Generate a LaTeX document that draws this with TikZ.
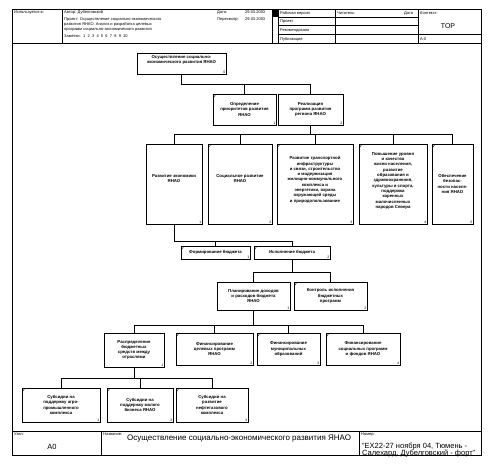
\documentclass[tikz,border=0pt]{standalone}
\usepackage{fontspec}
\setmainfont{Liberation Sans}
\newcommand\tb[8]{%
  \node[box, minimum width={(#4-#2)*1pt}, minimum height={(#5-#3)*1pt}] (#1) at ({(#2+#4)/2},{(#3+#5)/2}) {#6};
  \node[num, anchor=south east] (#1n) at (#1.south east) {#7};
  \ifnum#8=1 \draw[mark line] ([xshift=1pt,yshift=-4pt]#1.north west) -- ++(2,-3);\fi
}
\begin{document}
\begin{tikzpicture}[x=1pt,y=-1pt,
  box/.style={draw, line width=0.8pt, inner sep=0pt, align=center, font=\fontsize{4.3}{5.3}\selectfont\bfseries},
  num/.style={inner sep=0.8pt, font=\fontsize{3.5}{4}\selectfont},
  hdr/.style={inner sep=0pt, anchor=base west, font=\fontsize{4}{5}\selectfont},
  frame/.style={line width=0.8pt},
  link/.style={line width=0.8pt},
  mark line/.style={line width=0.4pt}]
\useasboundingbox (0,0) rectangle (495,467);
% frame
\draw[frame] (12,9) rectangle (481,455);
\draw[frame] (12,43) -- (481,43);
\draw[frame] (12,431) -- (481,431);
\foreach \xx in {62,272,278,335,418} \draw[frame] (\xx,9) -- (\xx,43);
\fill (272,9) rectangle (278,17);
\foreach \yy in {17,25.5,34} \draw[frame] (278,\yy) -- (418,\yy);
\draw[frame] (418,34) -- (481,34);
\draw[frame] (101,431) -- (101,455);
\draw[frame] (359,431) -- (359,455);
% header text
\node[hdr] (h1) at (14,13) {Используется в:};
\node[hdr] (h2) at (64,13) {Автор: Дубелговский};
\node[hdr] (h3) at (64,20) {Проект: Осуществление социально-экономического};
\node[hdr] (h4) at (64,25) {развития ЯНАО. Анализ и разработка целевых};
\node[hdr] (h5) at (64,30) {программ социально-экономического развития};
\node[hdr] (h6) at (64,37) {Заметки: \ 1 \ 2 \ 3 \ 4 \ 5 \ 6 \ 7 \ 8 \ 9 \ 10};
\node[hdr] (h7) at (217,13) {Дата:};
\node[hdr] (h8) at (245,13) {29.03.2003};
\node[hdr] (h9) at (217,20) {Пересмотр:};
\node[hdr] (h10) at (245,20) {29.03.2003};
\node[hdr] (h11) at (280,14) {Рабочая версия};
\node[hdr] (h12) at (280,22.5) {Проект};
\node[hdr] (h13) at (280,31) {Рекомендовано};
\node[hdr] (h14) at (280,40) {Публикация};
\node[hdr] (h15) at (337,14) {Читатель:};
\node[hdr] (h16) at (404,14) {Дата};
\node[hdr] (h17) at (420,14) {Контекст:};
\node[inner sep=0pt, font=\fontsize{7}{8}\selectfont] (h18) at (448,26) {TOP};
\node[hdr] (h19) at (420,40) {А-0};
% footer
\node[hdr] (f1) at (14,435) {Узел:};
\node[inner sep=0pt, font=\fontsize{7.5}{8}\selectfont] (f2) at (52,447) {А0};
\node[hdr] (f3) at (103,435) {Название:};
\node[inner sep=0pt, anchor=base west, font=\fontsize{8}{9}\selectfont] (f4) at (127,440) {Осуществление социально-экономического развития ЯНАО};
\node[hdr] (f5) at (361,435) {Номер:};
\node[inner sep=0pt, anchor=base west, font=\fontsize{7.5}{9}\selectfont] (f6) at (362,448) {"EX22-27 ноября 04, Тюмень -};
\node[inner sep=0pt, anchor=base west, font=\fontsize{7.5}{9}\selectfont] (f7) at (362,455) {Салехард, Дубелговский - форт"};
% boxes
\tb{b0}{137}{53}{226}{74}{Осуществление социально-\\экономического развития ЯНАО\\[3pt]}{0}{0}
\tb{b1}{213}{94}{276}{125}{Определение\\приоритетов развития\\ЯНАО}{1}{1}
\tb{b2}{278}{94}{343}{125}{Реализация\\программ развития\\региона ЯНАО}{2}{0}
\tb{b3}{146}{144}{202}{224}{Развитие экономики\\ЯНАО\\[6pt]}{1}{0}
\tb{b4}{208}{144}{272}{224}{Социальное развитие\\ЯНАО\\[6pt]}{2}{1}
\tb{b5}{277}{144}{353}{224}{Развитие транспортной\\инфраструктуры\\и связи, строительство\\и модернизация\\жилищно-коммунального\\комплекса и\\энергетики, охрана\\окружающей среды\\и природопользование\\[4pt]}{3}{1}
\tb{b6}{359}{144}{427}{224}{Повышение уровня\\и качества\\жизни населения,\\развитие\\образования и\\здравоохранения,\\культуры и спорта,\\поддержка\\коренных\\малочисленных\\народов Севера\\[2pt]}{4}{1}
\tb{b7}{432}{144}{473}{224}{Обеспечение\\безопас-\\ности населе-\\ния ЯНАО}{5}{1}
\tb{b8}{181}{246}{250}{259}{Формирование бюджета}{1}{1}
\tb{b9}{254}{246}{330}{259}{Исполнение бюджета}{2}{1}
\tb{b10}{217}{282}{290}{310}{Планирование доходов\\и расходов бюджета\\ЯНАО}{1}{0}
\tb{b11}{294}{282}{367}{310}{Контроль исполнения\\бюджетных\\программ}{2}{1}
\tb{b12}{104}{333}{164}{367}{Распределение\\бюджетных\\средств между\\отраслями}{1}{0}
\tb{b13}{176}{333}{253}{365}{Финансирование\\целевых программ\\ЯНАО}{2}{1}
\tb{b14}{257}{333}{320}{365}{Финансирование\\муниципальных\\образований}{3}{1}
\tb{b15}{326}{333}{400}{365}{Финансирование\\социальных программ\\и фондов ЯНАО}{4}{1}
\tb{b16}{22}{388}{100}{422}{Субсидии на\\поддержку агро-\\промышленного\\комплекса}{1}{1}
\tb{b17}{107}{388}{173}{422}{Субсидии на\\поддержку малого\\бизнеса ЯНАО}{2}{1}
\tb{b18}{176}{388}{248}{422}{Субсидии на\\развитие\\нефтегазового\\комплекса}{3}{1}
% connectors
\foreach \c in {b1,b2} \draw[link] (b0.south) -- ++(0,10) -| (\c.north);
\foreach \c in {b3,b4,b5,b6,b7} \draw[link] (b2.south) -- ++(0,9) -| (\c.north);
\foreach \c in {b8,b9} \draw[link] (b3.south) -- ++(0,17) -| (\c.north);
\foreach \c in {b10,b11} \draw[link] (b9.south) -- ++(0,13) -| (\c.north);
\foreach \c in {b12,b13,b14,b15} \draw[link] (b10.south) -- ++(0,15) -| (\c.north);
\foreach \c in {b16,b17,b18} \draw[link] (b12.south) -- ++(0,11) -| (\c.north);
\end{tikzpicture}
\end{document}
